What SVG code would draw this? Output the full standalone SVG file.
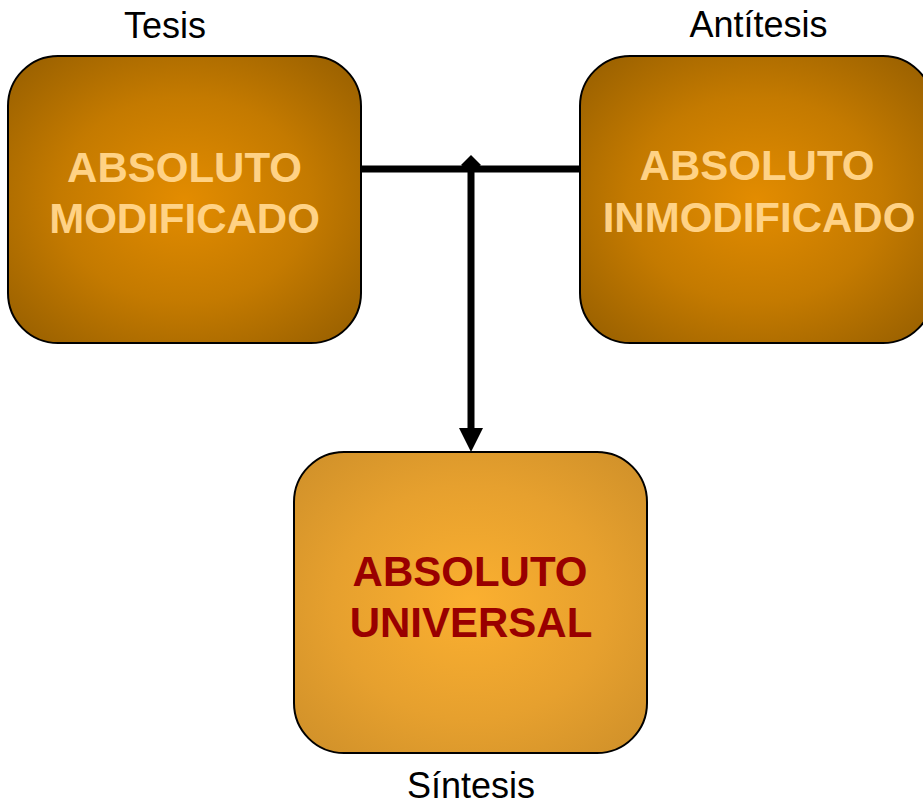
<svg xmlns="http://www.w3.org/2000/svg" width="923" height="810" viewBox="0 0 923 810">
  <style>
    .box { stroke: #000; stroke-width: 2; }
    .dark { fill: url(#gDark); }
    .light { fill: url(#gLight); }
    .t1 { font-family: "Liberation Sans", Arial, sans-serif; font-weight: bold; font-size: 42px; text-anchor: middle; fill: #ffd285; }
    .t2 { font-family: "Liberation Sans", Arial, sans-serif; font-weight: bold; font-size: 42px; text-anchor: middle; fill: #990000; }
    .lbl { font-family: "Liberation Sans", Arial, sans-serif; font-size: 36px; text-anchor: middle; fill: #000; }
    .conn { stroke: #000; stroke-width: 7; fill: none; }
    .head { fill: #000; }
  </style>
  <defs>
    <radialGradient id="gDark" cx="50%" cy="50%" r="65%">
      <stop offset="0" stop-color="#e38c00"/>
      <stop offset="0.55" stop-color="#c47a00"/>
      <stop offset="1" stop-color="#9c6200"/>
    </radialGradient>
    <radialGradient id="gLight" cx="50%" cy="50%" r="65%">
      <stop offset="0" stop-color="#fbb030"/>
      <stop offset="0.6" stop-color="#e6a02e"/>
      <stop offset="1" stop-color="#d2922a"/>
    </radialGradient>
  </defs>

  <g id="connectors">
    <line class="conn" x1="361" y1="169" x2="581" y2="169"/>
    <line class="conn" x1="471" y1="166" x2="471" y2="430"/>
    <polygon class="head" points="459,428 483,428 471,452"/>
    <polygon class="head" points="461,165 471,155 481,165 471,172"/>
  </g>

  <g id="tesis">
    <rect class="box dark" x="8" y="56" width="353" height="287" rx="50" ry="50"/>
    <text class="t1" x="184.5" y="182">ABSOLUTO</text>
    <text class="t1" x="184.5" y="233">MODIFICADO</text>
    <text class="lbl" x="165" y="38">Tesis</text>
  </g>

  <g id="antitesis">
    <rect class="box dark" x="580" y="56" width="353" height="287" rx="50" ry="50"/>
    <text class="t1" x="757" y="180">ABSOLUTO</text>
    <text class="t1" x="759" y="232">INMODIFICADO</text>
    <text class="lbl" x="758.5" y="37">Antítesis</text>
  </g>

  <g id="sintesis">
    <rect class="box light" x="294" y="452" width="353" height="301" rx="50" ry="50"/>
    <text class="t2" x="470" y="586">ABSOLUTO</text>
    <text class="t2" x="471" y="637">UNIVERSAL</text>
    <text class="lbl" x="471" y="798">Síntesis</text>
  </g>
</svg>
